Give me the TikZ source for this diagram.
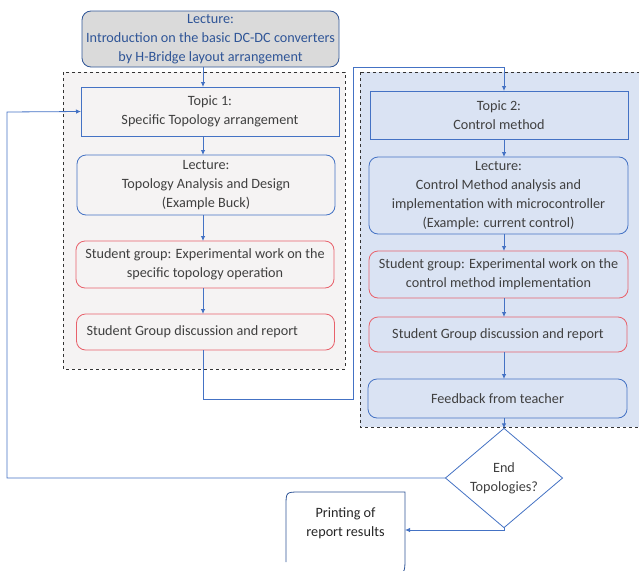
\documentclass[tikz,border=0pt]{standalone}
\usepackage{fontspec}
\setmainfont{Carlito}
\usetikzlibrary{shapes.geometric,arrows.meta,calc}
\definecolor{lineblue}{HTML}{4472C4}
\definecolor{darkblue}{HTML}{2F5597}
\definecolor{boxred}{HTML}{E8616B}
\definecolor{txtgray}{HTML}{404040}
\definecolor{panelgray}{HTML}{F5F3F3}
\definecolor{panelblue}{HTML}{DAE3F3}
\definecolor{introfill}{HTML}{DADADA}

\begin{document}
\begin{tikzpicture}[x=1pt,y=-1pt,
  every node/.style={font=\fontsize{14.2}{19}\selectfont, text=txtgray, align=center, inner sep=0pt, outer sep=0pt},
  topicbox/.style={draw=lineblue, line width=0.8pt, minimum width=258pt},
  roundbox/.style={topicbox, rounded corners=9pt},
  taskbox/.style={roundbox, draw=boxred},
  panel/.style={draw=black!80, dashed, line width=0.9pt},
  arr/.style={draw=lineblue, line width=0.8pt, -{Latex[length=5pt,width=4.5pt]}}]
\useasboundingbox (0,0) rectangle (639,570);

% Dashed panels
\draw[panel, fill=panelgray] (63,72) rectangle (345,369);
\draw[panel, fill=panelblue] (360,72) rectangle (655,427);

% Columns for the connectors
\coordinate (colL) at (203,0);
\coordinate (colR) at (504,0);

% Opening lecture
\node[roundbox, draw=darkblue, fill=introfill, text=darkblue, minimum width=257pt, minimum height=56pt] (intro) at (210.5,39) {Lecture:\\Introduction on the basic DC-DC converters\\by H-Bridge layout arrangement};

% Topic 1
\node[topicbox, fill=panelgray, minimum height=49pt] (topic1) at (210,111.5) {Topic 1:\\Specific Topology arrangement};
\node[roundbox, fill=panelgray, minimum height=60pt] (lec1) at (206,185) {Lecture:\\Topology Analysis and Design\\(Example Buck)};
\node[taskbox, fill=panelgray, minimum height=47pt] (work1) at (205,264.5) {Student group: Experimental work on the\\specific topology operation};
\node[taskbox, fill=panelgray, minimum height=36pt, text width=238pt, inner xsep=10pt, align=flush left] (disc1) at (205.5,332) {Student Group discussion and report};

% Topic 2
\node[topicbox, fill=panelblue, minimum height=48pt] (topic2) at (499,115) {Topic 2:\\Control method};
\node[roundbox, fill=panelblue, minimum width=259pt, minimum height=77pt] (lec2) at (498.5,195.5) {Lecture:\\Control Method analysis and\\implementation with microcontroller\\(Example: current control)};
\node[taskbox, fill=panelblue, minimum width=259pt, minimum height=47pt] (work2) at (498.5,274.5) {Student group: Experimental work on the\\control method implementation};
\node[taskbox, fill=panelblue, minimum height=35pt] (disc2) at (498,334.5) {Student Group discussion and report};
\node[roundbox, fill=panelblue, minimum width=259pt, minimum height=39pt] (feed) at (497.5,398.5) {Feedback from teacher};

% Decision and end
\node[diamond, draw=lineblue, line width=0.8pt, fill=white, minimum width=117pt, minimum height=86pt] (dec) at (504,478) {End\\Topologies?};
\node[minimum width=119pt, minimum height=62pt, text=black!85] (print) at (345.5,523) {Printing of\\report results};
\draw[draw=darkblue, line width=0.8pt] ($(print.north west)+(0,70)$) -- ($(print.north west)+(0,14)$) .. controls (print.north west) .. ($(print.north west)+(14,0)$) -- (print.north east) -- ($(print.south east)+(0,4)$) .. controls ($(print.south east)+(0,20)$) .. ($(print.south east)+(-16,20)$);

% Flow of topic 1
\draw[arr] (intro.south -| colL) -- (topic1.north -| colL);
\draw[arr] (topic1.south -| colL) -- (lec1.north -| colL);
\draw[arr] (lec1.south -| colL) -- (work1.north -| colL);
\draw[arr] (work1.south -| colL) -- (disc1.north -| colL);

% Over to topic 2
\coordinate (turnA) at (353,399);
\coordinate (turnB) at (353,67);
\draw[arr] (disc1.south -| colL) |- (turnA) -- (turnB) -| (topic2.north -| colR);

% Flow of topic 2
\draw[arr] (topic2.south -| colR) -- (lec2.north -| colR);
\draw[arr] (lec2.south -| colR) -- (work2.north -| colR);
\draw[arr] (work2.south -| colR) -- (disc2.north -| colR);
\draw[arr] (disc2.south -| colR) -- (feed.north -| colR);
\draw[arr] (feed.south -| colR) -- (dec.north);

% Back to the next topology
\coordinate (back) at (7,112);
\draw[arr] (dec.west) -| (back) -- (topic1.west);
\draw[arr] (dec.south) |- ($(print.east)+(0,7)$);
\end{tikzpicture}
\end{document}
